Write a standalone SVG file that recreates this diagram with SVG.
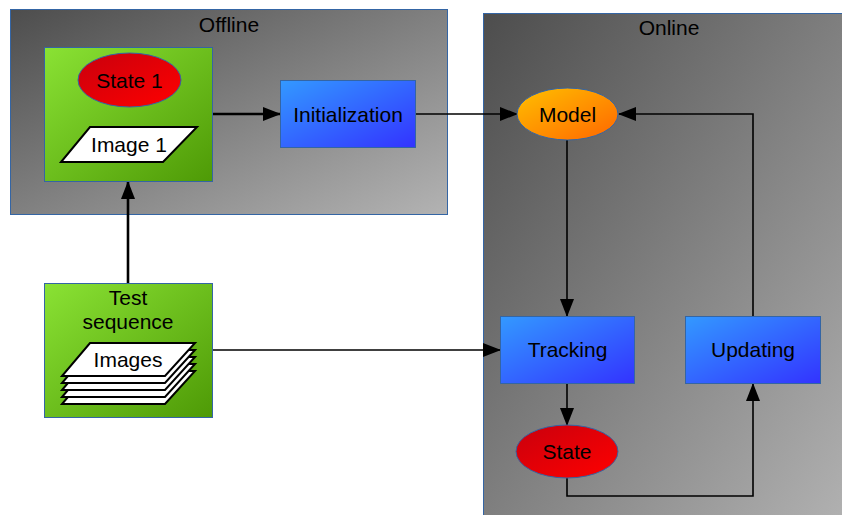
<svg xmlns="http://www.w3.org/2000/svg" width="842" height="515" viewBox="0 0 842 515">
<style>
text{font-family:"Liberation Sans",Arial,sans-serif;font-size:21px;fill:#000;text-anchor:middle}
.cont{stroke:#3465a4;stroke-width:1}
.box{stroke:#3465a4;stroke-width:1}
.ell{stroke:#3465a4;stroke-width:1}
.paper{fill:#fff;stroke:#000;stroke-width:2;stroke-linejoin:miter}
.thick{fill:none;stroke:#000;stroke-width:2.6}
.thin{fill:none;stroke:#000;stroke-width:1.6}
</style>
<defs>
<linearGradient id="gGray" x1="0" y1="0" x2="1" y2="1"><stop offset="0" stop-color="#4d4d4d"/><stop offset="1" stop-color="#b3b3b3"/></linearGradient>
<linearGradient id="gGreen" x1="0" y1="0" x2="1" y2="1"><stop offset="0" stop-color="#8ae234"/><stop offset="1" stop-color="#4e9a06"/></linearGradient>
<linearGradient id="gBlue" x1="0" y1="0" x2="1" y2="1"><stop offset="0" stop-color="#3399ff"/><stop offset="1" stop-color="#3333ff"/></linearGradient>
<linearGradient id="gRed" x1="0" y1="0" x2="1" y2="1"><stop offset="0" stop-color="#c9000d"/><stop offset="1" stop-color="#ff0000"/></linearGradient>
<linearGradient id="gOrange" x1="0" y1="0" x2="1" y2="1"><stop offset="0" stop-color="#ffc000"/><stop offset="1" stop-color="#ff6600"/></linearGradient>
<marker id="ah" markerUnits="userSpaceOnUse" markerWidth="18" markerHeight="14" viewBox="0 0 18 14" refX="17" refY="7" orient="auto"><path d="M0,0 L18,7 L0,14 Z" fill="#000"/></marker>
</defs>

<g id="offline">
<rect class="cont" x="10.5" y="9.5" width="437" height="205" fill="url(#gGray)"/>
<text x="229" y="32">Offline</text>
</g>
<g id="online">
<rect class="cont" x="483.5" y="13.5" width="370" height="515" fill="url(#gGray)"/>
<text x="669" y="35">Online</text>
</g>

<g id="connectors">
<path class="thick" d="M213,114 H280" marker-end="url(#ah)"/>
<path class="thick" d="M128,283 V182" marker-end="url(#ah)"/>
<path class="thin" d="M416,114 H517" marker-end="url(#ah)"/>
<path class="thin" d="M213,350 H500" marker-end="url(#ah)"/>
<path class="thin" d="M567,140 V316" marker-end="url(#ah)"/>
<path class="thin" d="M567,384 V425" marker-end="url(#ah)"/>
<path class="thin" d="M567,478 V496 H753 V384" marker-end="url(#ah)"/>
<path class="thin" d="M753,316 V114 H619" marker-end="url(#ah)"/>
</g>

<g id="state1-image1">
<rect class="box" x="44.5" y="47.5" width="168" height="134" fill="url(#gGreen)"/>
<ellipse class="ell" cx="129.5" cy="80" rx="51.5" ry="27" fill="url(#gRed)"/>
<text x="129.5" y="88">State 1</text>
<polygon class="paper" points="90,127 197,127 163,162 61,162"/>
<text x="129" y="152">Image 1</text>
</g>

<g id="initialization">
<rect class="box" x="280.5" y="80.5" width="135" height="67" fill="url(#gBlue)"/>
<text x="348" y="122">Initialization</text>
</g>

<g id="test-sequence">
<rect class="box" x="44.5" y="283.5" width="168" height="134" fill="url(#gGreen)"/>
<text x="128" y="305">Test</text>
<text x="128" y="329">sequence</text>
<polygon class="paper" points="90,371 195,371 165,404 62,404"/>
<polygon class="paper" points="90,364 195,364 165,397 62,397"/>
<polygon class="paper" points="90,357 195,357 165,390 62,390"/>
<polygon class="paper" points="90,350 195,350 165,383 62,383"/>
<polygon class="paper" points="90,343 195,343 165,376 62,376"/>
<text x="128" y="367">Images</text>
</g>

<g id="model">
<ellipse class="ell" cx="567.5" cy="114" rx="50.5" ry="26" fill="url(#gOrange)"/>
<text x="567.5" y="122">Model</text>
</g>

<g id="tracking">
<rect class="box" x="500.5" y="316.5" width="134" height="67" fill="url(#gBlue)"/>
<text x="567.5" y="357">Tracking</text>
</g>

<g id="updating">
<rect class="box" x="685.5" y="316.5" width="135" height="67" fill="url(#gBlue)"/>
<text x="753" y="357">Updating</text>
</g>

<g id="state">
<ellipse class="ell" cx="567" cy="451.5" rx="51" ry="26.5" fill="url(#gRed)"/>
<text x="567" y="459">State</text>
</g>
</svg>
